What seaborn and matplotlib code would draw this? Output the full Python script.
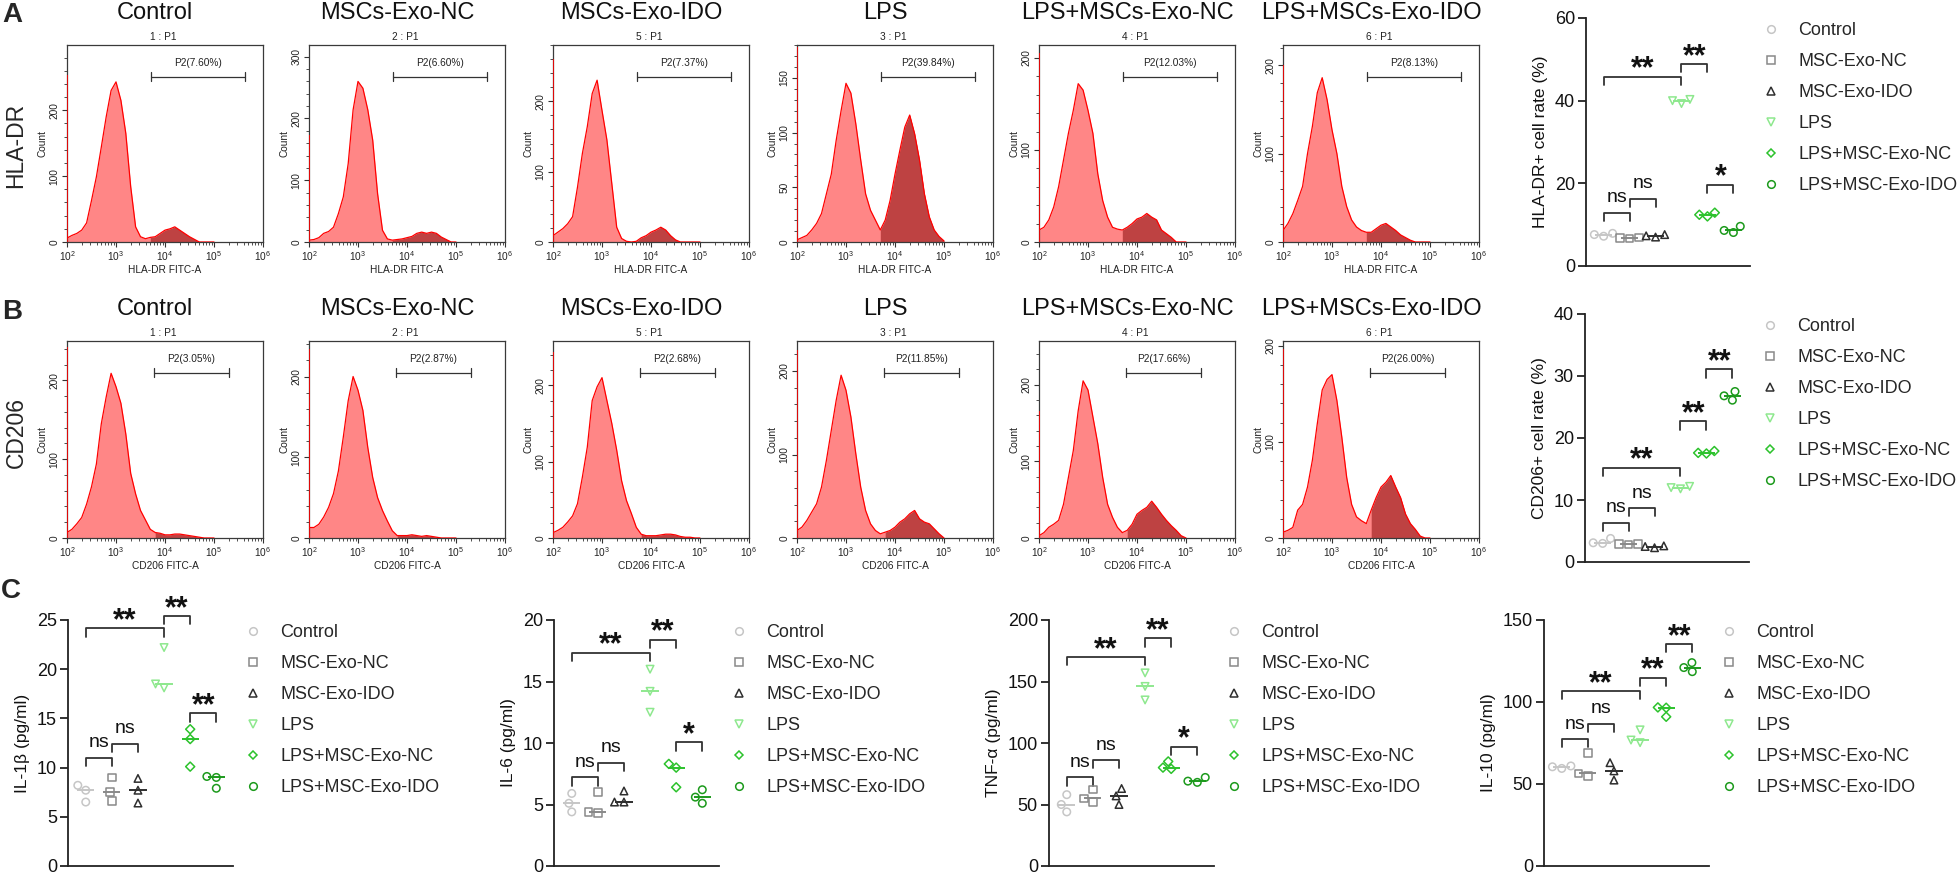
import numpy as np
import pandas as pd
import matplotlib
matplotlib.use("Agg")
import matplotlib.pyplot as plt
import seaborn as sns
from matplotlib.lines import Line2D
from matplotlib.ticker import MultipleLocator, LogLocator, NullFormatter

sns.set_theme(style="ticks")
plt.rcParams["font.family"] = ["Liberation Sans", "DejaVu Sans"]
plt.rcParams["mathtext.default"] = "regular"

# 1 流式直方图数据 (横轴 log10 FITC-A 分箱中心, 纵轴 Count)
fitc_log = [2.0, 2.1, 2.2, 2.3, 2.4, 2.5, 2.6, 2.7, 2.8, 2.9, 3.0,
            3.1, 3.2, 3.3, 3.4, 3.5, 3.6, 3.7, 3.8, 3.9, 4.0,
            4.1, 4.2, 4.3, 4.4, 4.5, 4.6, 4.7, 4.8, 4.9, 5.0]

hist_titles = ["Control", "MSCs-Exo-NC", "MSCs-Exo-IDO", "LPS", "LPS+MSCs-Exo-NC", "LPS+MSCs-Exo-IDO"]
tube_ids = ["1 : P1", "2 : P1", "5 : P1", "3 : P1", "4 : P1", "6 : P1"]

hla_counts = [
    [6, 10, 13, 18, 29, 63, 99, 144, 190, 230, 243, 215, 165, 84, 23, 8, 5, 7, 8, 13, 18, 20, 23, 18, 13, 8, 4, 0, 0, 0, 0],
    [3, 4, 7, 14, 17, 24, 46, 73, 127, 214, 260, 249, 214, 165, 78, 19, 5, 3, 4, 5, 7, 9, 14, 16, 14, 16, 14, 8, 4, 0, 0],
    [9, 14, 19, 26, 36, 78, 126, 164, 211, 230, 187, 145, 83, 21, 5, 1, 0, 1, 6, 9, 14, 17, 21, 17, 9, 3, 0, 0, 0, 0, 0],
    [2, 4, 6, 11, 17, 26, 44, 62, 93, 120, 145, 136, 108, 75, 44, 29, 20, 11, 20, 38, 62, 84, 105, 116, 99, 75, 44, 23, 11, 5, 1],
    [13, 16, 24, 38, 60, 89, 118, 143, 172, 165, 143, 118, 74, 45, 27, 16, 14, 13, 16, 20, 25, 27, 31, 27, 24, 13, 9, 5, 0, 0, 0],
    [13, 21, 32, 47, 63, 100, 131, 169, 186, 161, 127, 100, 63, 40, 25, 17, 13, 11, 11, 15, 19, 21, 17, 13, 8, 5, 2, 0, 0, 0, 0],
]
cd206_counts = [
    [7, 11, 18, 26, 43, 65, 94, 145, 179, 209, 192, 171, 132, 82, 56, 35, 23, 11, 7, 6, 4, 4, 5, 5, 4, 3, 2, 1, 0, 0, 0],
    [13, 13, 17, 26, 38, 55, 83, 125, 170, 200, 183, 158, 112, 75, 50, 34, 21, 9, 3, 3, 3, 4, 3, 2, 3, 2, 1, 0, 0, 0, 0],
    [7, 10, 14, 21, 29, 45, 80, 119, 180, 198, 210, 180, 150, 115, 75, 49, 32, 14, 5, 3, 3, 3, 4, 5, 5, 4, 2, 1, 1, 0, 0],
    [9, 13, 21, 31, 41, 61, 93, 129, 165, 195, 177, 145, 101, 61, 33, 17, 9, 5, 7, 9, 13, 19, 23, 29, 33, 23, 19, 17, 11, 5, 0],
    [3, 7, 14, 18, 23, 44, 79, 114, 166, 205, 193, 158, 123, 79, 44, 27, 14, 7, 10, 18, 31, 36, 40, 48, 40, 31, 23, 16, 10, 3, 0],
    [6, 8, 11, 29, 35, 53, 81, 119, 154, 165, 170, 143, 105, 63, 35, 22, 18, 15, 29, 42, 53, 58, 65, 53, 42, 25, 15, 9, 2, 0, 0],
]
hla_edge = [253, 173, 260, 178, 205, 200]     # 最左侧堆积事件
cd206_edge = [243, 234, 244, 225, 166, 197]
hla_ymax = [299, 319, 280, 180, 214, 223]
cd206_ymax = [250, 244, 258, 236, 257, 205]
hla_ystep = [100, 100, 100, 50, 100, 100]
cd206_ystep = [100, 100, 100, 100, 100, 100]
hla_gate = [3.715, 5.63]   # P2 门 (log10)
cd206_gate = [3.78, 5.30]
hla_p2 = ["P2(7.60%)", "P2(6.60%)", "P2(7.37%)", "P2(39.84%)", "P2(12.03%)", "P2(8.13%)"]
cd206_p2 = ["P2(3.05%)", "P2(2.87%)", "P2(2.68%)", "P2(11.85%)", "P2(17.66%)", "P2(26.00%)"]

# 2 散点图数据
groups = ["Control", "MSC-Exo-NC", "MSC-Exo-IDO", "LPS", "LPS+MSC-Exo-NC", "LPS+MSC-Exo-IDO"]
group_colors = ["#c6c6c6", "#898989", "#2e2e2e", "#8ee88e", "#2cc22c", "#1c9a1c"]
group_markers = ["o", "s", "^", "v", "D", "o"]

hla_rate = [[7.2, 7.6, 7.9], [6.6, 6.8, 6.9], [7.0, 7.3, 7.6], [39.3, 40.3, 40.0], [12.0, 12.9, 12.4], [8.1, 9.6, 8.6]]
cd206_rate = [[3.0, 3.8, 3.1], [2.8, 2.9, 2.9], [2.3, 2.5, 2.6], [11.8, 12.0, 12.2], [17.5, 17.9, 17.6], [27.5, 26.1, 26.8]]
il1b = [[8.2, 7.7, 6.5], [9.0, 7.5, 6.6], [8.9, 7.7, 6.4], [22.2, 18.1, 18.5], [13.9, 12.9, 10.1], [9.1, 9.0, 7.9]]
il6 = [[5.9, 5.1, 4.4], [6.0, 4.3, 4.4], [6.1, 5.2, 5.2], [16.0, 14.2, 12.5], [8.3, 8.0, 6.4], [6.2, 5.6, 5.1]]
tnf = [[58, 50, 44], [62, 55, 52], [63, 57, 50], [157, 146, 135], [85, 80, 79], [72, 68, 69]]
il10 = [[59.5, 60.5, 61.0], [69.0, 55.0, 56.5], [63.0, 58.0, 52.4], [83.0, 75.2, 76.8], [96.7, 96.5, 91.0], [124.0, 118.5, 121.0]]

# 显著性标注 (组i, 组j, 横线高度, 文本)
hla_sig = [(0, 1, 12.9, "ns"), (1, 2, 16.2, "ns"), (0, 3, 45.8, "**"), (3, 4, 48.9, "**"), (4, 5, 19.7, "*")]
cd206_sig = [(0, 1, 6.35, "ns"), (1, 2, 8.7, "ns"), (0, 3, 15.2, "**"), (3, 4, 22.7, "**"), (4, 5, 31.1, "**")]
il1b_sig = [(0, 1, 11.0, "ns"), (1, 2, 12.4, "ns"), (0, 3, 24.15, "**"), (3, 4, 25.4, "**"), (4, 5, 15.5, "**")]
il6_sig = [(0, 1, 7.2, "ns"), (1, 2, 8.4, "ns"), (0, 3, 17.35, "**"), (3, 4, 18.4, "**"), (4, 5, 10.05, "*")]
tnf_sig = [(0, 1, 72, "ns"), (1, 2, 86, "ns"), (0, 3, 170, "**"), (3, 4, 185, "**"), (4, 5, 97, "*")]
il10_sig = [(0, 1, 77.4, "ns"), (1, 2, 86.6, "ns"), (0, 3, 106.7, "**"), (3, 4, 114.8, "**"), (4, 5, 135.4, "**")]

W, H = 1960, 874
fig = plt.figure(figsize=(W / 100, H / 100), dpi=100)


def add_axes_px(left, top, width, height):
    return fig.add_axes([left / W, 1 - (top + height) / H, width / W, height / H])


def fig_text(x, y, s, **kw):
    fig.text(x / W, 1 - y / H, s, **kw)


def draw_hist(ax, counts, edge, ymax, ystep, gate, p2, xlabel):
    df = pd.DataFrame({"x": [10 ** v for v in fitc_log], "count": counts})
    ax.set_xscale("log")
    ax.fill_between(df["x"], df["count"], color="#ff8686", lw=0, zorder=1)
    mask = [v >= gate[0] - 0.02 for v in fitc_log]
    ax.fill_between(df["x"], df["count"], where=mask, color="#be4242", lw=0, zorder=2)
    sns.lineplot(data=df, x="x", y="count", ax=ax, color="#ff0000", lw=0.9, zorder=3)
    ax.vlines(100, 0, edge, color="#ff0000", lw=1.2, zorder=3)
    ax.set_xlim(100, 1e6)
    ax.set_ylim(0, ymax)
    ax.xaxis.set_major_locator(LogLocator(base=10, numticks=10))
    ax.xaxis.set_minor_locator(LogLocator(base=10, subs=np.arange(2, 10), numticks=10))
    ax.xaxis.set_minor_formatter(NullFormatter())
    ax.yaxis.set_major_locator(MultipleLocator(ystep))
    ax.yaxis.set_minor_locator(MultipleLocator(ystep / 5))
    ax.tick_params(axis="both", which="major", labelsize=7.3, length=3.5, width=0.8, pad=2,
                   color="#333333", labelcolor="#222222")
    ax.tick_params(axis="both", which="minor", length=2, width=0.6, color="#333333")
    plt.setp(ax.get_yticklabels(), rotation=90, va="center")
    for s in ax.spines.values():
        s.set_color("#3a3a3a")
        s.set_linewidth(0.9)
    ax.set_xlabel(xlabel, fontsize=7.3, labelpad=1, color="#222222")
    ax.set_ylabel("Count", fontsize=7.3, labelpad=1, color="#222222")
    # P2 门
    tr = ax.get_xaxis_transform()
    g0, g1 = 10 ** gate[0], 10 ** gate[1]
    ax.plot([g0, g1], [0.839, 0.839], color="#333333", lw=0.9, transform=tr)
    ax.plot([g0, g0], [0.815, 0.863], color="#333333", lw=0.9, transform=tr)
    ax.plot([g1, g1], [0.815, 0.863], color="#333333", lw=0.9, transform=tr)
    ax.text(10 ** ((gate[0] + gate[1]) / 2), 0.907, p2, transform=tr, ha="center", va="center",
            fontsize=7.3, color="#222222")


def draw_scatter(ax, values, sig, ymax, ystep, ylabel):
    for i, vals in enumerate(values):
        sns.swarmplot(x=[i] * len(vals), y=vals, ax=ax, native_scale=True, orient="x",
                      marker=group_markers[i], size=5.4 if group_markers[i] != "D" else 4.6,
                      color=group_colors[i], facecolors="none", edgecolor=group_colors[i],
                      linewidth=1.1, clip_on=False, zorder=3)
        ax.hlines(float(np.median(vals)), i - 0.33, i + 0.33, color=group_colors[i], lw=1.4, zorder=2)
    ax.set_xlim(-0.68, 5.64)
    ax.set_ylim(0, ymax)
    ax.yaxis.set_major_locator(MultipleLocator(ystep))
    sns.despine(ax=ax)
    for side in ["left", "bottom"]:
        ax.spines[side].set_color("#222222")
        ax.spines[side].set_linewidth(1.3)
    ax.tick_params(axis="y", length=6, width=1.3, labelsize=13, pad=2, color="#222222", labelcolor="#111111")
    ax.tick_params(axis="x", bottom=False, labelbottom=False)
    ax.set_xlabel("")
    ax.set_ylabel(ylabel, fontsize=12.5, labelpad=5, color="#111111")
    leg = ymax * 8.3 / 247
    for i, j, y, lab in sig:
        ax.plot([i, i, j, j], [y - leg, y, y, y - leg], color="#333333", lw=1.3, clip_on=False)
        if lab == "ns":
            ax.annotate(lab, xy=((i + j) / 2, y), xytext=(0, 7.6), textcoords="offset points",
                        ha="center", va="baseline", fontsize=14, color="#111111", annotation_clip=False)
        else:
            ax.annotate(lab, xy=((i + j) / 2, y), xytext=(0, -0.7), textcoords="offset points",
                        ha="center", va="baseline", fontsize=22, fontweight="bold", color="#111111",
                        annotation_clip=False)
    handles = [Line2D([], [], marker=m, ls="none", mfc="none", mec=c, ms=5.5 if m != "D" else 4.5, mew=1.1)
               for m, c in zip(group_markers, group_colors)]
    pos = ax.get_position()
    lx = pos.x0 * W + 176
    ly = (1 - pos.y1) * H + 4
    ax.legend(handles, groups, loc="upper left", bbox_to_anchor=(lx / W, 1 - ly / H),
              bbox_transform=fig.transFigure, frameon=False, fontsize=13, handlelength=1.0,
              handletextpad=1.0, labelspacing=0.78, borderpad=0, borderaxespad=0)


# 3 A/B 行: 流式直方图
hist_left = [67, 309, 553, 797, 1039, 1283]
rows = [(45, hla_counts, hla_edge, hla_ymax, hla_ystep, hla_gate, hla_p2, "HLA-DR FITC-A"),
        (341, cd206_counts, cd206_edge, cd206_ymax, cd206_ystep, cd206_gate, cd206_p2, "CD206 FITC-A")]
for top, counts, edges, ymaxs, ysteps, gate, p2s, xlab in rows:
    for k, left in enumerate(hist_left):
        ax = add_axes_px(left, top, 196, 197)
        draw_hist(ax, counts[k], edges[k], ymaxs[k], ysteps[k], gate, p2s[k], xlab)
        fig_text(left + 88, top - 32, hist_titles[k], ha="center", va="center", fontsize=17, color="#111111")
        fig_text(left + 96, top - 8, tube_ids[k], ha="center", va="center", fontsize=7.3, color="#222222")

fig_text(12, 15, "A", ha="center", va="center", fontsize=20, fontweight="bold")
fig_text(12, 312, "B", ha="center", va="center", fontsize=20, fontweight="bold")
fig_text(11, 591, "C", ha="center", va="center", fontsize=20, fontweight="bold")
fig_text(16, 145, "HLA-DR", ha="center", va="center", rotation=90, fontsize=16.5)
fig_text(16, 433, "CD206", ha="center", va="center", rotation=90, fontsize=16.5)

# 4 散点图
ax = add_axes_px(1586, 18, 164, 248)
draw_scatter(ax, hla_rate, hla_sig, 60, 20, "HLA-DR+ cell rate (%)")
ax = add_axes_px(1585, 314, 164, 248)
draw_scatter(ax, cd206_rate, cd206_sig, 40, 10, "CD206+ cell rate (%)")

c_panels = [(68, il1b, il1b_sig, 25, 5, "IL-1β (pg/ml)"),
            (554, il6, il6_sig, 20, 5, "IL-6 (pg/ml)"),
            (1049, tnf, tnf_sig, 200, 50, "TNF-α (pg/ml)"),
            (1544, il10, il10_sig, 150, 50, "IL-10 (pg/ml)")]
for left, vals, sig, ymax, ystep, ylab in c_panels:
    ax = add_axes_px(left, 620, 165, 246)
    draw_scatter(ax, vals, sig, ymax, ystep, ylab)

fig.savefig("out.png", dpi=100)
